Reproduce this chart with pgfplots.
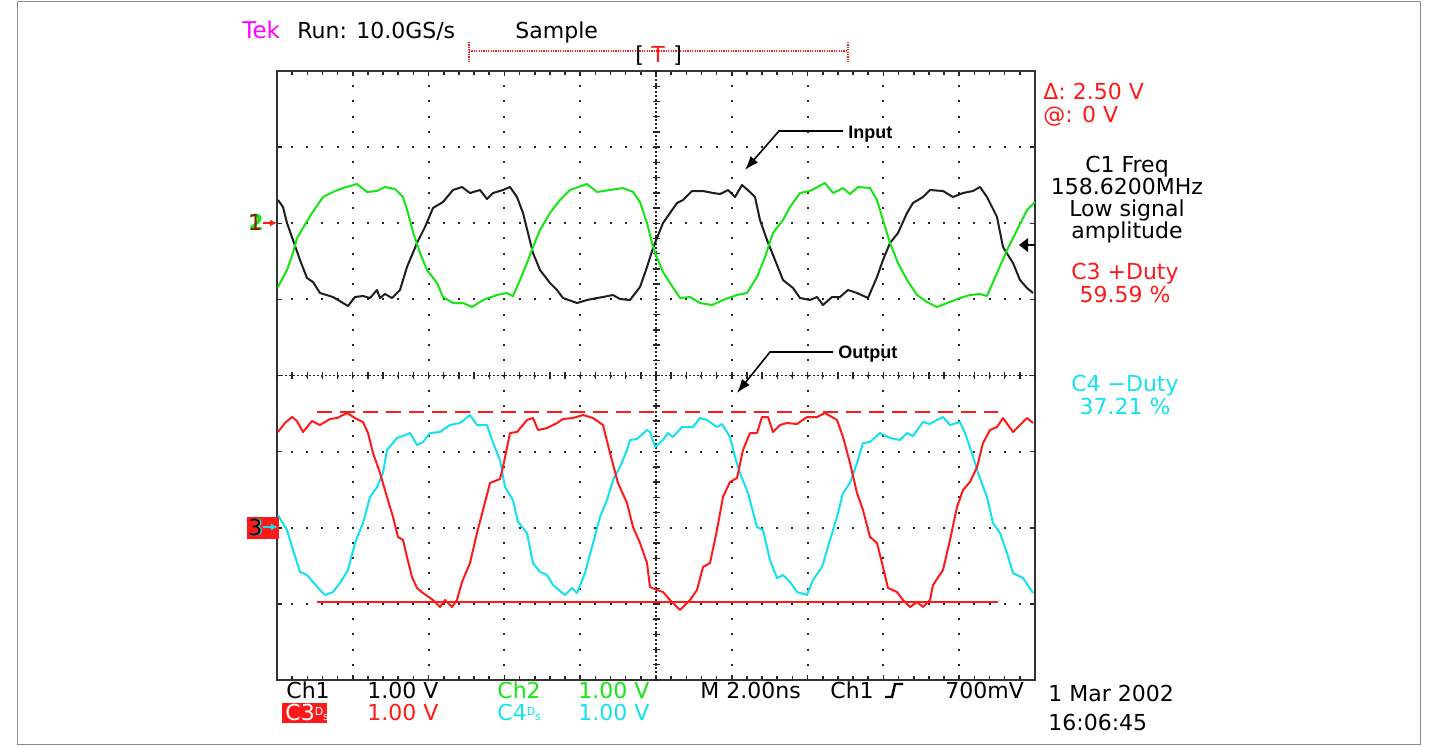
\documentclass[border=0pt]{standalone}
\usepackage{fontspec}
\setmainfont{DejaVu Sans}
\newfontfamily\labfont{Liberation Sans}
\usepackage{pgfplots}
\pgfplotsset{compat=1.18}
\usetikzlibrary{arrows.meta}

\definecolor{scred}{RGB}{255,25,25}
\definecolor{scgreen}{RGB}{20,230,20}
\definecolor{sccyan}{RGB}{20,225,240}
\definecolor{scblack}{RGB}{30,30,30}
\definecolor{tekmag}{RGB}{255,0,255}
\newcommand\st{\fontsize{11}{13}\selectfont}
\newcommand\dstag{{\fontsize{5.5}{6}\selectfont\raisebox{2.5pt}{D}\raisebox{-0.3pt}{s}}}

% traces, in screen units (x right, y down)
\pgfplotstableread{
x y
278 200
283 207
287 223
293 240
300 260
307 278
313 282
320 293
333 297
348 306
355 297
363 296
370 298
377 290
380 298
385 294
392 298
400 290
407 267
417 243
425 227
433 208
443 202
453 190
462 187
470 193
480 190
487 199
493 193
503 190
510 187
517 197
523 213
528 233
533 253
540 270
550 283
557 290
563 298
577 303
587 300
597 298
603 297
613 295
620 299
630 300
640 287
647 267
653 248
663 223
670 213
677 203
683 200
692 191
703 191
713 193
720 194
728 190
735 197
742 185
750 192
755 197
760 220
767 240
775 260
783 280
793 288
800 298
810 300
817 297
823 305
832 297
840 297
848 290
857 293
868 298
877 277
883 260
890 243
898 233
907 213
913 203
923 197
930 190
943 191
953 197
963 193
973 191
980 187
987 197
997 217
1003 247
1013 263
1020 280
1027 288
1033 293
}\chone

\pgfplotstableread{
x y
278 287
287 270
293 253
297 238
303 228
312 213
323 197
333 192
343 188
357 184
367 192
377 191
385 187
395 189
403 197
408 213
413 232
420 253
427 270
437 283
443 297
453 303
463 303
472 307
483 300
497 295
507 293
513 296
520 280
527 263
533 247
540 230
550 213
560 200
570 190
587 184
597 192
610 190
623 188
633 192
640 202
647 223
653 247
658 260
663 272
670 283
680 298
690 297
700 303
712 305
723 300
737 295
747 293
757 277
765 257
773 233
783 220
790 207
800 193
810 191
825 183
833 193
843 188
850 194
858 187
870 188
877 200
883 220
890 243
898 263
907 280
917 295
927 302
937 307
947 303
960 298
970 295
980 294
987 296
997 273
1007 250
1017 230
1027 210
1035 202
}\chtwo

\pgfplotstableread{
x y
278 432
285 423
292 417
297 421
303 432
312 421
320 425
330 419
337 418
347 413
355 418
363 422
368 433
373 453
380 473
387 497
393 517
398 537
403 540
407 557
412 577
417 588
423 593
433 600
440 607
445 600
452 607
457 600
462 582
470 563
477 533
483 510
490 483
500 479
503 467
510 433
517 432
527 420
533 418
538 430
547 428
557 423
563 419
573 418
583 415
593 418
603 425
610 453
618 483
627 503
633 527
640 543
647 563
650 587
657 590
663 592
670 600
680 610
687 603
690 600
697 590
703 567
710 563
717 530
723 497
730 482
737 478
743 450
750 433
757 433
762 417
768 417
773 432
780 425
787 423
797 424
807 417
817 417
825 413
837 420
843 437
850 463
857 493
863 510
870 537
877 543
883 567
888 588
897 592
903 600
910 607
917 602
923 607
930 600
933 585
943 570
950 540
957 507
963 490
970 482
977 467
983 443
990 430
997 427
1003 418
1013 432
1020 425
1027 418
1033 423
}\chthree

\pgfplotstableread{
x y
278 515
287 530
293 550
300 572
307 575
313 582
320 590
325 595
333 592
340 583
348 570
355 543
363 523
370 497
377 487
383 473
387 450
397 438
403 436
410 433
417 445
423 442
430 433
440 432
450 425
460 423
470 415
477 425
487 425
492 440
500 460
505 487
513 500
518 522
527 533
533 563
540 572
547 575
553 585
565 595
572 588
577 593
585 573
592 547
600 517
607 500
613 480
620 467
627 450
630 440
637 439
647 430
650 432
655 447
663 440
668 433
673 437
682 427
693 427
700 418
707 420
717 427
722 424
730 437
735 457
740 473
748 493
757 527
763 530
770 560
777 578
783 575
790 582
797 592
807 595
813 580
822 567
830 540
837 517
843 493
850 483
857 463
863 443
870 442
880 433
890 438
900 440
907 433
913 436
923 422
930 424
937 420
943 417
950 425
960 422
965 433
972 453
978 473
987 497
993 523
1000 533
1007 553
1013 573
1023 578
1033 593
}\chfour

\pgfplotstableread{
x y
317 411.5
998 411.5
}\hilevel
\pgfplotstableread{
x y
317 602
998 602
}\lolevel

\begin{document}
\begin{tikzpicture}
\begin{axis}[
  width=379pt, height=304.5pt, scale only axis,
  xmin=277, xmax=1035, ymin=71, ymax=680, y dir=reverse,
  clip=false,
  axis line style={line width=1pt, black!80},
  xtick={277,352.8,428.6,504.4,580.2,656,731.8,807.6,883.4,959.2,1035},
  ytick={71,147.1,223.3,299.4,375.5,451.6,527.8,603.9,680},
  minor x tick num=4, minor y tick num=4,
  xticklabels={}, yticklabels={},
  tick align=inside, major tick length=2.5pt, minor tick length=2pt,
  tick style={black!85, line width=0.8pt},
  grid=major,
  x grid style={black!85, line width=1pt, dash pattern=on 1pt off 6.6125pt, dash phase=0.5pt},
  y grid style={black!85, line width=1pt, dash pattern=on 1pt off 6.58pt, dash phase=0.5pt},
  every axis plot/.append style={line width=1pt, line join=round, no markers},
]
% page extent and outer frame
\path (axis cs:0,0) rectangle (axis cs:1435,745);
\draw[black!45, line width=0.5pt] (axis cs:18,1) rectangle (axis cs:1420,744);

% centre lines of the graticule
\draw[black!85, line width=0.8pt, dash pattern=on 0.8pt off 1.2pt] (axis cs:277,375.5) -- (axis cs:1035,375.5);
\draw[black!85, line width=0.8pt, dash pattern=on 0.8pt off 1.2pt] (axis cs:656,71) -- (axis cs:656,680);
\pgfplotsinvokeforeach{0,...,50}{
  \draw[black!85, line width=0.7pt] (axis cs:{277+#1*15.16},372) -- (axis cs:{277+#1*15.16},379);
}
\pgfplotsinvokeforeach{0,...,40}{
  \draw[black!85, line width=0.7pt] (axis cs:652.5,{71+#1*15.225}) -- (axis cs:659.5,{71+#1*15.225});
}

% traces
\addplot[scblack] table {\chone};
\addplot[scgreen] table {\chtwo};
\addplot[sccyan] table {\chfour};
\addplot[scred] table {\chthree};
\addplot[scred, dash pattern=on 7.5pt off 4pt] table {\hilevel};
\addplot[scred] table {\lolevel};

% header
\node[anchor=base west, inner sep=0, text=tekmag] at (axis cs:242,38) {\fontsize{11.5}{13}\selectfont Tek};
\node[anchor=base west, inner sep=0] at (axis cs:297,38) {\st Run: 10.0GS/s};
\node[anchor=base west, inner sep=0] at (axis cs:515,38) {\st Sample};
\draw[scred, line width=0.6pt, dash pattern=on 0.6pt off 0.6pt] (axis cs:469,51) -- (axis cs:848,51);
\draw[scred, line width=0.6pt, dash pattern=on 0.6pt off 0.6pt] (axis cs:469,42) -- (axis cs:469,63);
\draw[scred, line width=0.6pt, dash pattern=on 0.6pt off 0.6pt] (axis cs:848,42) -- (axis cs:848,63);
\node[anchor=base west, inner sep=0] at (axis cs:635,62) {\st [};
\node[anchor=base west, inner sep=0, text=scred] at (axis cs:651,62) {\st T};
\node[anchor=base west, inner sep=0] at (axis cs:673,62) {\st ]};

% channel markers
\node[anchor=base west, inner sep=0, text=scgreen] at (axis cs:248,230) {\st\bfseries 2};
\node[anchor=base west, inner sep=0, text=scred!60!black] at (axis cs:248,230) {\st 1};
\draw[scred, line width=0.8pt, -{Latex[length=3.5pt,width=3.5pt]}] (axis cs:263,223) -- (axis cs:277,223);
\fill[scred] (axis cs:247,517) rectangle (axis cs:279,539);
\node[anchor=base west, inner sep=0, text=sccyan] at (axis cs:249.5,535) {\st 3};
\node[anchor=base west, inner sep=0, text=black] at (axis cs:248,535) {\st 3};
\draw[sccyan, line width=0.8pt, -{Latex[length=3.5pt,width=3.5pt]}] (axis cs:263,527) -- (axis cs:278,527);
\fill[black] (axis cs:1019,245) -- (axis cs:1028,238) -- (axis cs:1028,252) -- cycle;
\draw[black, line width=1pt] (axis cs:1026,245) -- (axis cs:1035,245);

% annotations
\draw[black, line width=0.8pt, -{Latex[length=7pt,width=5pt]}] (axis cs:843,131) -- (axis cs:779,131) -- (axis cs:745,170);
\node[anchor=base west, inner sep=0] at (axis cs:848,138) {\labfont\bfseries\fontsize{9}{10}\selectfont Input};
\draw[black, line width=0.8pt, -{Latex[length=7pt,width=5pt]}] (axis cs:833,352) -- (axis cs:770,352) -- (axis cs:737,393);
\node[anchor=base west, inner sep=0] at (axis cs:838,358) {\labfont\bfseries\fontsize{9}{10}\selectfont Output};

% right-hand readouts
\node[anchor=base west, inner sep=0, text=scred] at (axis cs:1043,99) {\st Δ: 2.50 V};
\node[anchor=base west, inner sep=0, text=scred] at (axis cs:1043,122) {\st @: 0 V};
\node[anchor=base, inner sep=0] at (axis cs:1127,172) {\st C1 Freq};
\node[anchor=base, inner sep=0] at (axis cs:1127,194) {\st 158.6200MHz};
\node[anchor=base, inner sep=0] at (axis cs:1127,216) {\st Low signal};
\node[anchor=base, inner sep=0] at (axis cs:1127,238) {\st amplitude};
\node[anchor=base, inner sep=0, text=scred] at (axis cs:1125,279) {\st C3 +Duty};
\node[anchor=base, inner sep=0, text=scred] at (axis cs:1125,302) {\st 59.59 \%};
\node[anchor=base, inner sep=0, text=sccyan] at (axis cs:1125,391) {\st C4 −Duty};
\node[anchor=base, inner sep=0, text=sccyan] at (axis cs:1125,414) {\st 37.21 \%};

% bottom readouts
\node[anchor=base west, inner sep=0] at (axis cs:286,698) {\st Ch1};
\node[anchor=base west, inner sep=0] at (axis cs:367,698) {\st 1.00 V};
\node[anchor=base west, inner sep=0, text=scgreen] at (axis cs:497,698) {\st Ch2};
\node[anchor=base west, inner sep=0, text=scgreen] at (axis cs:578,698) {\st 1.00 V};
\node[anchor=base west, inner sep=0] at (axis cs:700,698) {\st M 2.00ns};
\node[anchor=base west, inner sep=0] at (axis cs:830,698) {\st Ch1};
\draw[black, line width=1.2pt] (axis cs:885,697) -- (axis cs:892,697) -- (axis cs:895,684) -- (axis cs:903,684);
\node[anchor=base west, inner sep=0] at (axis cs:945,698) {\st 700mV};
\fill[scred] (axis cs:282,703) rectangle (axis cs:327,723);
\node[anchor=base west, inner sep=0, text=white] at (axis cs:285,720) {\st C3\dstag};
\node[anchor=base west, inner sep=0, text=scred] at (axis cs:367,720) {\st 1.00 V};
\node[anchor=base west, inner sep=0, text=sccyan] at (axis cs:497,720) {\st C4\dstag};
\node[anchor=base west, inner sep=0, text=sccyan] at (axis cs:578,720) {\st 1.00 V};
\node[anchor=base west, inner sep=0] at (axis cs:1048,701) {\st 1 Mar 2002};
\node[anchor=base west, inner sep=0] at (axis cs:1048,730) {\st 16:06:45};
\end{axis}
\end{tikzpicture}
\end{document}
